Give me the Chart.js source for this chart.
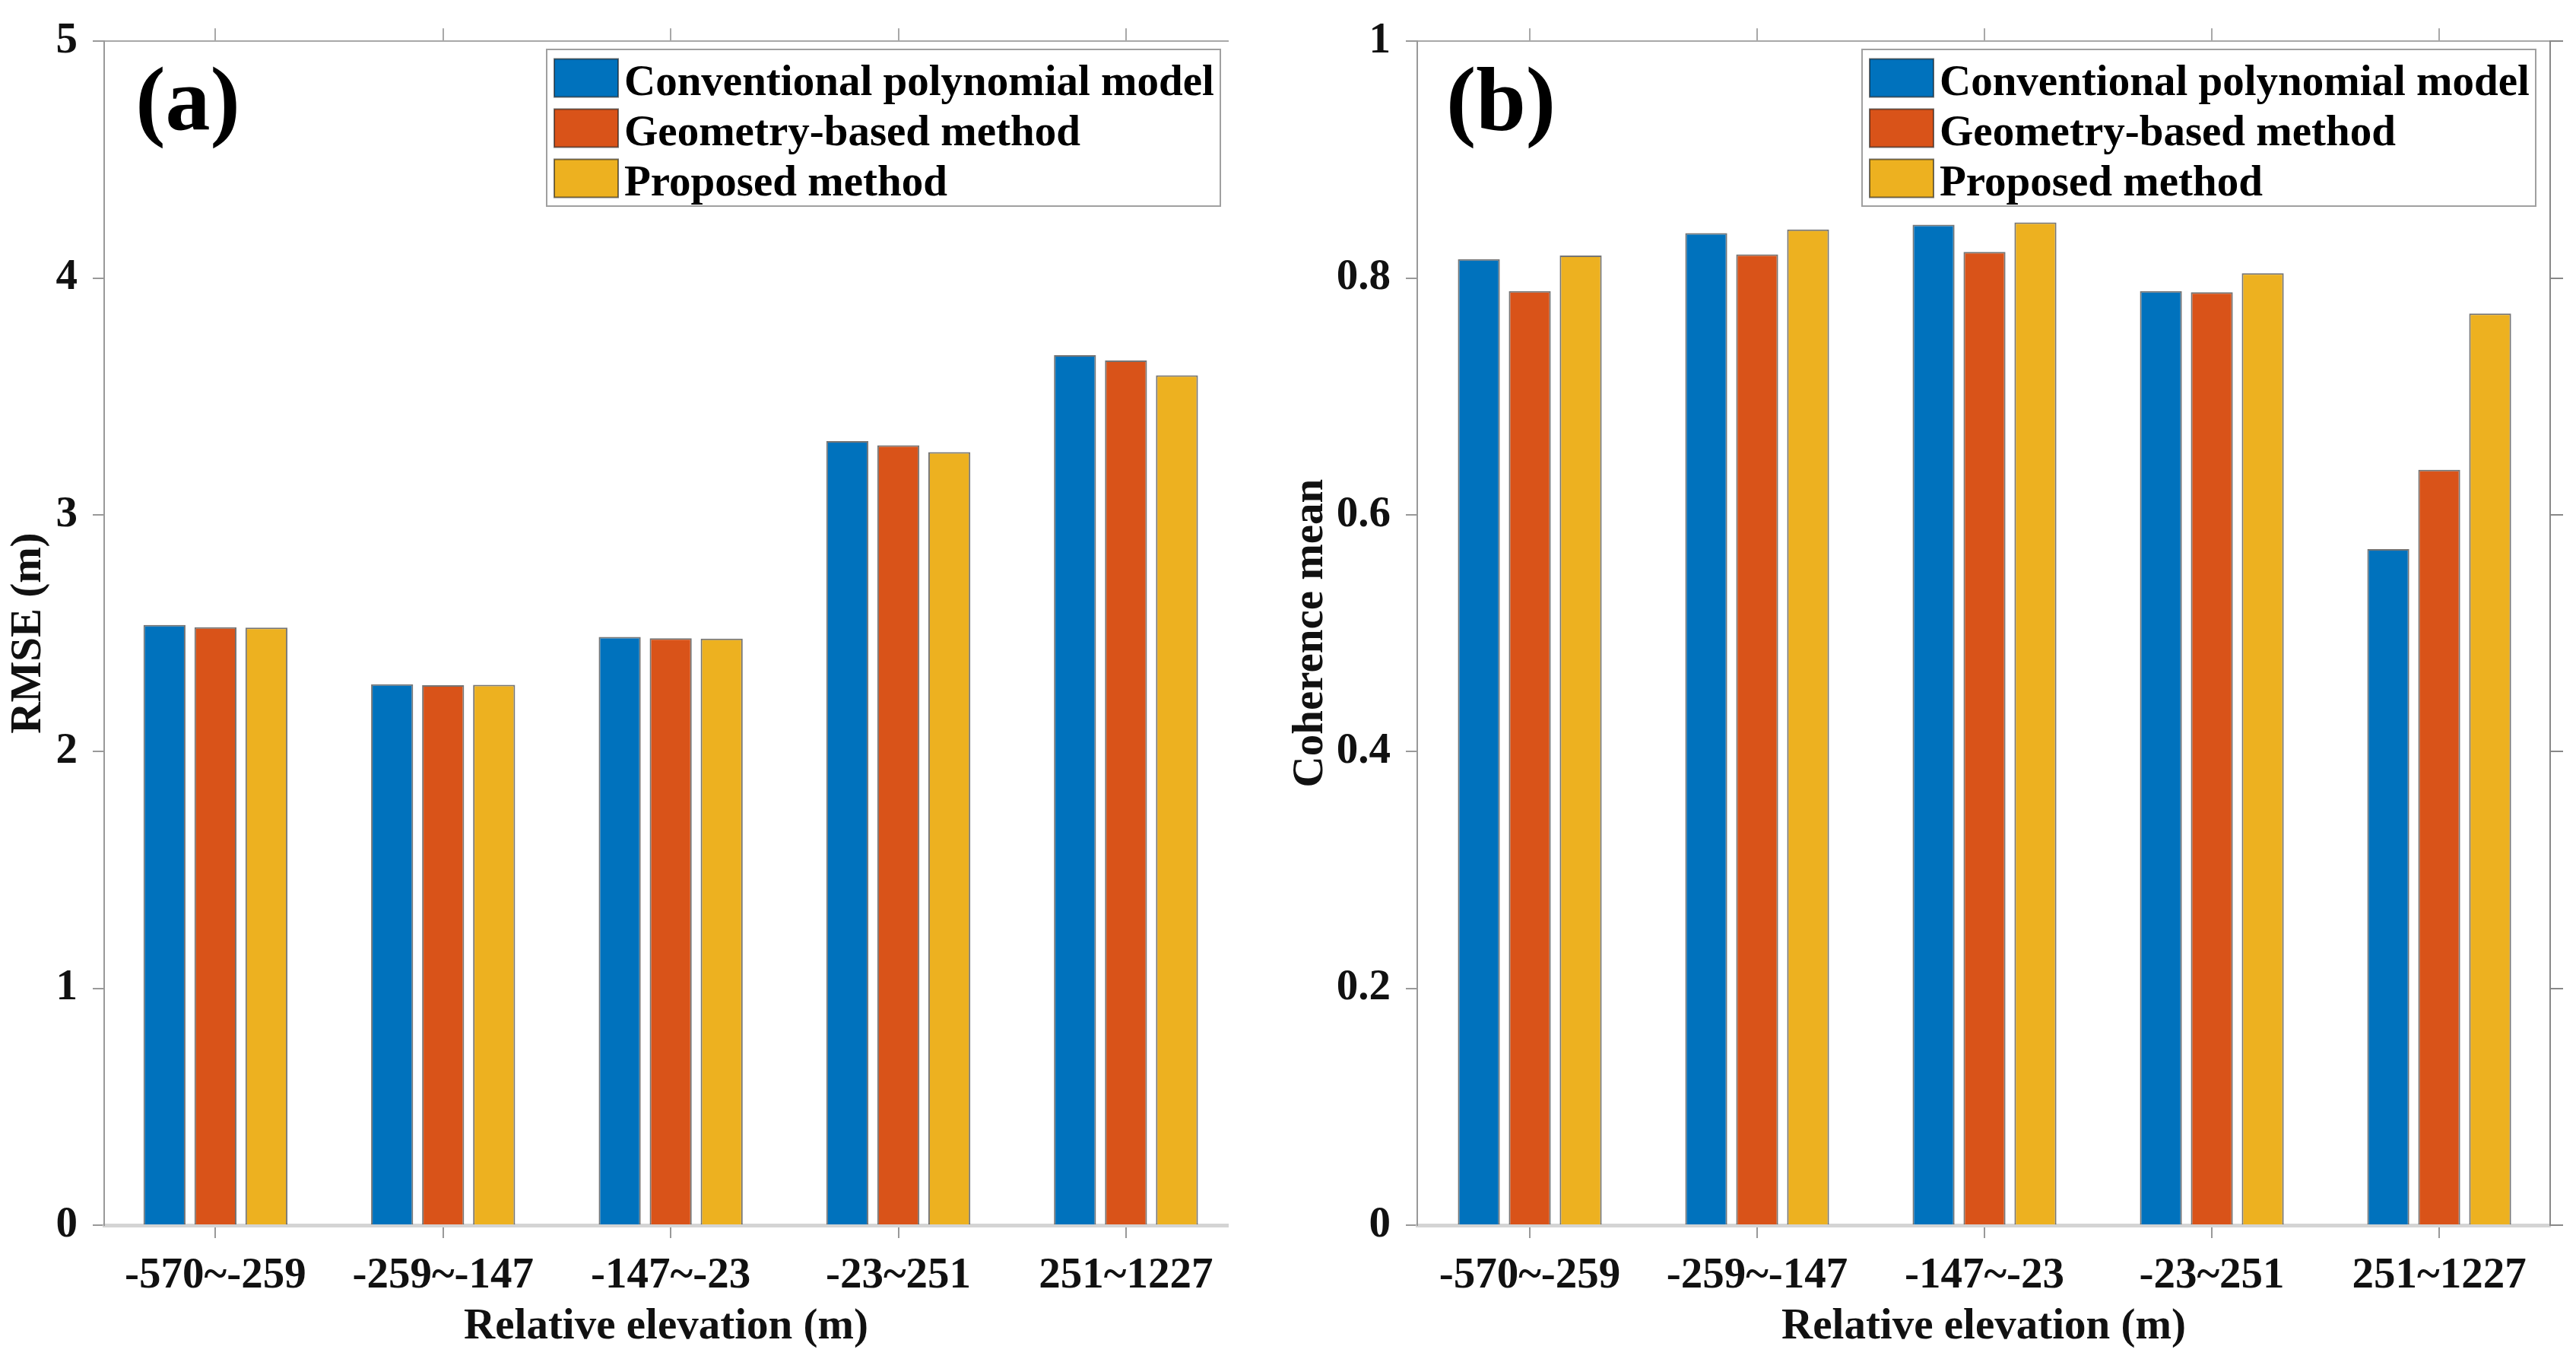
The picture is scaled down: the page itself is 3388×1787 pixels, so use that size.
<!DOCTYPE html>
<html>
<head>
<meta charset="utf-8">
<script src="https://cdn.jsdelivr.net/npm/chart.js@4.4.1/dist/chart.umd.min.js"></script>
<style>
  html, body { margin: 0; padding: 0; background: #fff; overflow: hidden; }
  canvas { position: absolute; top: 0; }
  #rmse { left: 0; }
  #coh { left: 1690px; }
</style>
</head>
<body>
<canvas id="rmse" width="1690" height="1787"></canvas>
<canvas id="coh" width="1698" height="1787"></canvas>
<script>
// categorias (eje x)
const elevBins = ["-570~-259", "-259~-147", "-147~-23", "-23~251", "251~1227"];
const seriesNames = ["Conventional polynomial model", "Geometry-based method", "Proposed method"];

// (a) RMSE (m)
const rmseConventional = [2.535, 2.284, 2.484, 3.311, 3.674];
const rmseGeometry = [2.525, 2.280, 2.479, 3.294, 3.652];
const rmseProposed = [2.524, 2.282, 2.477, 3.265, 3.589];

// (b) Coherence mean
const cohConventional = [0.816, 0.838, 0.845, 0.789, 0.571];
const cohGeometry = [0.789, 0.820, 0.822, 0.788, 0.638];
const cohProposed = [0.819, 0.841, 0.847, 0.804, 0.770];

const colors = ["#0072BD", "#D95319", "#EDB120"];
const FONT = "'Times New Roman', 'Liberation Serif', serif";
const edge = "rgba(25,25,25,0.6)";

Chart.defaults.font.family = FONT;
Chart.defaults.font.weight = "bold";
Chart.defaults.font.size = 57;
Chart.defaults.color = "#111";

function toXY(arr) {
  return arr.map(function (v, i) { return { x: i + 1, y: v }; });
}

function makeDatasets(a, b, c) {
  return [a, b, c].map(function (arr, k) {
    return {
      label: seriesNames[k],
      data: toXY(arr),
      backgroundColor: colors[k],
      borderColor: edge,
      borderWidth: 2,
      borderSkipped: "start",
      categoryPercentage: 0.672,
      barPercentage: 0.824,
    };
  });
}

// leyenda dentro del grafico + etiqueta (a)/(b)
const boxLegend = {
  id: "boxLegend",
  afterDraw: function (chart, args, opts) {
    const ctx = chart.ctx;
    const area = chart.chartArea;
    ctx.save();
    // panel tag
    ctx.fillStyle = "#000";
    ctx.font = "bold 118px " + FONT;
    ctx.textAlign = "center";
    ctx.textBaseline = "alphabetic";
    ctx.fillText(opts.tag, area.left + 110, 170);

    // legend box
    const x = opts.x, y = opts.y, w = 886, h = 206;
    ctx.fillStyle = "#fff";
    ctx.fillRect(x, y, w, h);
    ctx.strokeStyle = "#a0a0a0";
    ctx.lineWidth = 2;
    ctx.strokeRect(x, y, w, h);
    ctx.font = "bold 57px " + FONT;
    ctx.textAlign = "left";
    chart.data.datasets.forEach(function (ds, i) {
      const top = y + 12.5 + i * 66;
      ctx.fillStyle = ds.backgroundColor;
      ctx.fillRect(x + 10, top, 84, 50);
      ctx.strokeStyle = edge;
      ctx.lineWidth = 2;
      ctx.strokeRect(x + 10, top, 84, 50);
      ctx.fillStyle = "#000";
      ctx.fillText(ds.label, x + 102, top + 47);
    });
    ctx.restore();
  }
};

function makeOptions(cfg) {
  const scales = {
    x: {
      type: "linear",
      position: "bottom",
      min: cfg.xmin,
      max: cfg.xmax,
      offset: false,
      grid: { drawOnChartArea: false, offset: false, tickLength: 17, color: "#999", lineWidth: 2 },
      border: { color: "#d4d4d4", width: 5 },
      ticks: {
        stepSize: 1,
        includeBounds: false,
        autoSkip: false,
        maxRotation: 0,
        padding: 16,
        callback: function (v) { return elevBins[v - 1]; }
      },
      title: { display: true, text: "Relative elevation (m)", padding: { top: 0, bottom: 8 } },
      afterFit: function (s) { s.height = 176; }
    },
    x2: {
      type: "linear",
      position: "top",
      min: cfg.xmin,
      max: cfg.xmax,
      offset: false,
      grid: { drawOnChartArea: false, offset: false, tickLength: 17, color: "#a8a8a8", lineWidth: 2 },
      border: { color: "#a8a8a8", width: 2 },
      ticks: { display: false, stepSize: 1, includeBounds: false },
      afterFit: function (s) { s.height = 45; }
    },
    y: {
      min: 0,
      max: cfg.ymax,
      grid: { drawOnChartArea: false, tickLength: 15, color: "#999", lineWidth: 2 },
      border: { color: "#999", width: 2 },
      ticks: { stepSize: cfg.step, padding: 20, callback: cfg.fmt },
      title: { display: true, text: cfg.ytitle, padding: { top: cfg.ytitlePad, bottom: 0 } },
      afterFit: function (s) { s.width = cfg.yw; }
    }
  };
  if (cfg.rightAxis) {
    scales.y2 = {
      position: "right",
      min: 0,
      max: cfg.ymax,
      grid: { drawOnChartArea: false, tickLength: 17, color: "#888", lineWidth: 2 },
      border: { color: "#888", width: 2 },
      ticks: { display: false, stepSize: cfg.step },
      afterFit: function (s) { s.width = 34; }
    };
  }
  return {
    responsive: false,
    devicePixelRatio: 1,
    animation: false,
    layout: { padding: { left: 0, right: cfg.padRight, top: 0, bottom: 0 } },
    plugins: {
      legend: { display: false },
      tooltip: { enabled: false },
      boxLegend: { tag: cfg.tag, x: cfg.legX, y: 65 }
    },
    scales: scales
  };
}

new Chart(document.getElementById("rmse"), {
  type: "bar",
  data: { datasets: makeDatasets(rmseConventional, rmseGeometry, rmseProposed) },
  options: makeOptions({
    xmin: 0.511, xmax: 5.448, ymax: 5, step: 1,
    fmt: function (v) { return String(v); },
    ytitle: "RMSE (m)", ytitlePad: 4, yw: 137,
    padRight: 75, rightAxis: false, tag: "(a)", legX: 719
  }),
  plugins: [boxLegend]
});

new Chart(document.getElementById("coh"), {
  type: "bar",
  data: { datasets: makeDatasets(cohConventional, cohGeometry, cohProposed) },
  options: makeOptions({
    xmin: 0.505, xmax: 5.488, ymax: 1, step: 0.2,
    fmt: function (v) { return String(+v.toFixed(1)); },
    ytitle: "Coherence mean", ytitlePad: 0, yw: 174,
    padRight: 0, rightAxis: true, tag: "(b)", legX: 759
  }),
  plugins: [boxLegend]
});
</script>
</body>
</html>
